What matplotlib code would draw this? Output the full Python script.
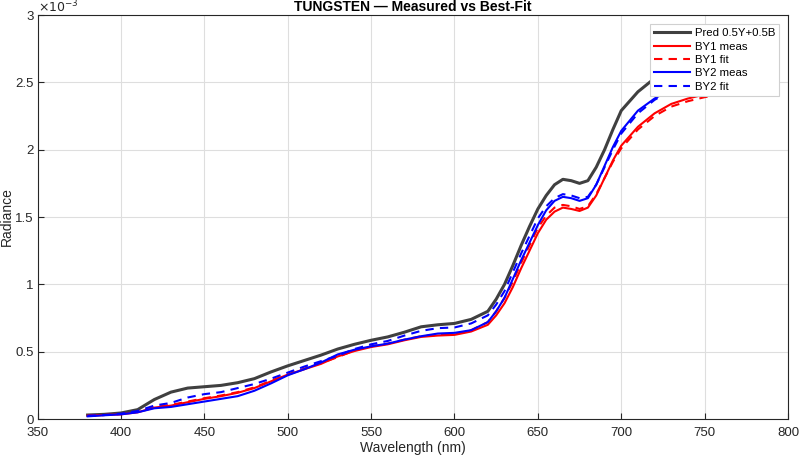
import numpy as np
import matplotlib
matplotlib.use('Agg')
import matplotlib.pyplot as plt
from matplotlib.ticker import FormatStrFormatter

plt.rcParams['font.family'] = ['Liberation Sans', 'DejaVu Sans']

# wavelength samples (nm)
wl = [380, 390, 400, 410, 420, 430, 440, 450, 460, 470, 480, 490, 500, 510, 520,
      530, 540, 550, 560, 570, 580, 590, 600, 610, 620, 625, 630, 635, 640, 645,
      650, 655, 660, 665, 670, 675, 680, 685, 690, 695, 700, 710, 720, 730, 740,
      750, 760, 770, 780]

# radiance values, in units of 1e-3
pred = [0.030, 0.035, 0.045, 0.070, 0.145, 0.200, 0.230, 0.240, 0.250, 0.270, 0.300,
        0.350, 0.395, 0.435, 0.475, 0.520, 0.555, 0.585, 0.610, 0.645, 0.685, 0.700,
        0.710, 0.740, 0.800, 0.890, 1.000, 1.140, 1.290, 1.430, 1.560, 1.660, 1.740,
        1.780, 1.770, 1.750, 1.770, 1.870, 2.000, 2.150, 2.290, 2.430, 2.530, 2.610,
        2.680, 2.730, 2.770, 2.800, 2.820]
by1_meas = [0.025, 0.030, 0.035, 0.050, 0.085, 0.100, 0.125, 0.150, 0.170, 0.195, 0.230,
            0.280, 0.330, 0.370, 0.410, 0.465, 0.505, 0.535, 0.555, 0.585, 0.610, 0.620,
            0.625, 0.650, 0.700, 0.770, 0.860, 0.980, 1.120, 1.250, 1.380, 1.480, 1.540,
            1.570, 1.560, 1.545, 1.570, 1.660, 1.790, 1.920, 2.030, 2.170, 2.270, 2.340,
            2.380, 2.410, 2.430, 2.450, 2.460]
by1_fit = [0.025, 0.030, 0.037, 0.055, 0.090, 0.105, 0.130, 0.155, 0.175, 0.200, 0.235,
           0.285, 0.330, 0.375, 0.415, 0.460, 0.510, 0.540, 0.560, 0.590, 0.615, 0.625,
           0.630, 0.660, 0.720, 0.800, 0.900, 1.020, 1.160, 1.290, 1.420, 1.510, 1.570,
           1.590, 1.580, 1.560, 1.580, 1.670, 1.790, 1.910, 2.010, 2.150, 2.250, 2.320,
           2.360, 2.390, 2.410, 2.430, 2.440]
by2_meas = [0.020, 0.028, 0.035, 0.050, 0.080, 0.090, 0.110, 0.130, 0.150, 0.170, 0.210,
            0.265, 0.325, 0.370, 0.420, 0.480, 0.515, 0.540, 0.560, 0.590, 0.615, 0.635,
            0.640, 0.660, 0.720, 0.800, 0.900, 1.040, 1.180, 1.310, 1.440, 1.550, 1.620,
            1.650, 1.640, 1.620, 1.640, 1.740, 1.880, 2.020, 2.140, 2.290, 2.380, 2.450,
            2.500, 2.540, 2.570, 2.590, 2.610]
by2_fit = [0.025, 0.030, 0.040, 0.060, 0.100, 0.120, 0.160, 0.185, 0.200, 0.230, 0.260,
           0.300, 0.345, 0.390, 0.430, 0.470, 0.520, 0.555, 0.580, 0.620, 0.655, 0.675,
           0.680, 0.710, 0.770, 0.850, 0.950, 1.090, 1.230, 1.360, 1.490, 1.580, 1.640,
           1.670, 1.660, 1.640, 1.650, 1.740, 1.870, 2.000, 2.120, 2.270, 2.370, 2.440,
           2.490, 2.530, 2.560, 2.580, 2.600]

fig = plt.figure(figsize=(8, 4.55), dpi=100)
ax = fig.add_axes([0.047, 0.079, 0.938, 0.888])

ax.plot(wl, pred, color='#404040', lw=2.2, label='Pred 0.5Y+0.5B')
ax.plot(wl, by1_meas, color='#ff0000', lw=1.5, label='BY1 meas')
ax.plot(wl, by1_fit, color='#ff0000', lw=1.5, ls=(0, (4, 3)), label='BY1 fit')
ax.plot(wl, by2_meas, color='#0000ff', lw=1.5, label='BY2 meas')
ax.plot(wl, by2_fit, color='#0000ff', lw=1.5, ls=(0, (4, 3)), label='BY2 fit')

ax.set_xlim(350, 800)
ax.set_ylim(0, 3)
ax.set_xticks(np.arange(350, 801, 50))
ax.set_yticks(np.arange(0, 3.01, 0.5))
ax.yaxis.set_major_formatter(FormatStrFormatter('%g'))
ax.grid(True, color='#dedede', lw=0.8)
ax.set_axisbelow(True)
ax.tick_params(direction='in', length=4, labelsize=9.5, color='#262626', labelcolor='#262626')
ax.tick_params(axis='x', pad=6)
ax.tick_params(axis='y', pad=3)
for s in ax.spines.values():
    s.set_color('#262626')
    s.set_linewidth(0.8)

ax.set_xlabel('Wavelength (nm)', fontsize=10, color='#262626', labelpad=1)
ax.set_ylabel('Radiance', fontsize=10, color='#262626')
ax.yaxis.set_label_coords(-0.031, 0.5)
ax.set_title('TUNGSTEN — Measured vs Best-Fit', fontsize=10, fontweight='bold', pad=3)
ax.text(0.0, 1.0, r'$\times10^{-3}$', transform=ax.transAxes, fontsize=9,
        ha='left', va='bottom', color='#262626')

leg = ax.legend(loc='upper right', fontsize=8.2, handlelength=3.2, borderaxespad=0.8,
                fancybox=False, framealpha=1, edgecolor='#d0d0d0', labelspacing=0.3,
                handletextpad=0.4, borderpad=0.35)
leg.get_frame().set_linewidth(0.8)

plt.savefig('out.png', dpi=100)
